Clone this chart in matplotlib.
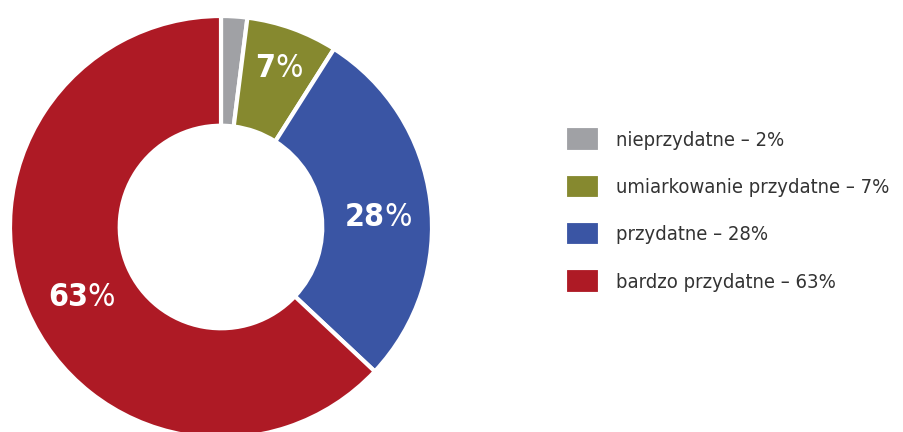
import numpy as np
import matplotlib
matplotlib.use("Agg")
from matplotlib import pyplot as plt
from matplotlib.offsetbox import TextArea, HPacker, AnnotationBbox

plt.rcParams["font.family"] = ["DejaVu Sans"]
plt.rcParams["font.stretch"] = "condensed"

# data
categories = ["nieprzydatne", "umiarkowanie przydatne", "przydatne", "bardzo przydatne"]
values = [2, 7, 28, 63]
colors = ["#a0a1a5", "#86892f", "#3a55a4", "#ae1a25"]
show_label = [False, True, True, True]
label_dist = [0.8, 0.81, 0.75, 0.72]
label_dy = [0.0, -0.01, -0.05, -0.05]

fig = plt.figure(figsize=(9.04, 4.32), dpi=100)
ax = fig.add_axes([10 / 904, -6 / 432, 422 / 904, 422 / 432])

wedges, _ = ax.pie(
    values,
    colors=colors,
    startangle=90,
    counterclock=False,
    radius=1.0,
    wedgeprops=dict(width=0.52, edgecolor="white", linewidth=3),
)
ax.set_xlim(-1, 1)
ax.set_ylim(-1, 1)
ax.set_aspect("equal")
ax.axis("off")

# slice labels: bold number, light percent sign
for w, v, show, d, dy in zip(wedges, values, show_label, label_dist, label_dy):
    if not show:
        continue
    ang = np.deg2rad((w.theta1 + w.theta2) / 2)
    x, y = d * np.cos(ang), d * np.sin(ang) + dy
    num = TextArea(str(v), textprops=dict(color="white", fontsize=23, fontweight="bold"))
    pct = TextArea("%", textprops=dict(color="white", fontsize=23, fontweight="light"))
    box = HPacker(children=[num, pct], pad=0, sep=0, align="baseline")
    ab = AnnotationBbox(box, (x, y), xycoords="data", frameon=False,
                        box_alignment=(0.5, 0.5), pad=0)
    ax.add_artist(ab)

labels = [f"{c} \u2013 {v}%" for c, v in zip(categories, values)]
fig.legend(
    wedges,
    labels,
    loc="center left",
    bbox_to_anchor=(555 / 904, 1 - 210 / 432),
    frameon=False,
    fontsize=14.5,
    labelcolor="#333333",
    handlelength=1.75,
    handleheight=1.55,
    handletextpad=0.8,
    labelspacing=1.1,
    borderpad=0,
)

plt.savefig("out.png", dpi=100)
